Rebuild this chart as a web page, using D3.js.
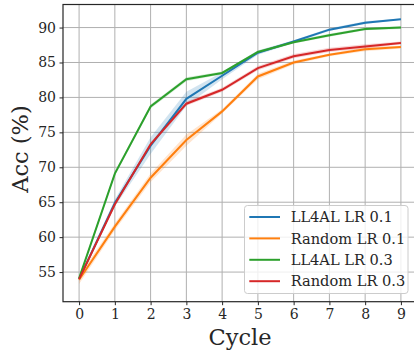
<!DOCTYPE html>
<html><head><meta charset="utf-8">
<script src="https://cdn.jsdelivr.net/npm/d3@7"></script>
<style>body{margin:0;background:#fff}svg{display:block}</style>
</head><body>
<script>
const cycles = [0,1,2,3,4,5,6,7,8,9];
const seriesNames = ["LL4AL LR 0.1","Random LR 0.1","LL4AL LR 0.3","Random LR 0.3"];
const colors = ["#1f77b4","#ff7f0e","#2ca02c","#d62728"];
const ll4al01 = [54.0,64.9,73.1,79.8,83.1,86.4,88.0,89.7,90.7,91.2];
const random01 = [53.9,61.5,68.5,73.9,78.0,83.0,85.0,86.1,86.9,87.2];
const ll4al03 = [54.1,69.1,78.7,82.6,83.5,86.5,87.9,88.9,89.8,90.0];
const random03 = [54.0,64.7,73.3,79.1,81.1,84.2,85.9,86.8,87.3,87.8];
const std01a = [0.3,0.5,1.2,1.0,0.5,0.3,0.2,0.2,0.2,0.1];
const std01r = [0.6,0.5,0.6,0.8,0.3,0.4,0.3,0.2,0.3,0.2];
const std03a = [0.3,0.3,0.3,0.3,0.2,0.2,0.2,0.2,0.2,0.2];
const std03r = [0.2,0.3,0.3,0.3,0.3,0.3,0.3,0.3,0.3,0.2];
const yTicks = [55,60,65,70,75,80,85,90];

const values = [ll4al01, random01, ll4al03, random03];
const stds = [std01a, std01r, std03a, std03r];

const W = 414, H = 356;
const m = {left:63, top:4.5, right:417, bottom:301.7};
const svg = d3.select("body").append("svg").attr("width",W).attr("height",H)
  .style("font-family","'DejaVu Serif', serif");

const x = d3.scaleLinear().domain([-0.45,9.45]).range([m.left,m.right]);
const y = d3.scaleLinear().domain([50.76,93.3]).range([m.bottom,m.top]);

// grid
const g = svg.append("g");
g.selectAll(".gx").data(cycles).enter().append("line")
  .attr("x1",d=>x(d)).attr("x2",d=>x(d)).attr("y1",m.top).attr("y2",m.bottom)
  .attr("stroke","#b0b0b0").attr("stroke-width",1);
g.selectAll(".gy").data(yTicks).enter().append("line")
  .attr("y1",d=>y(d)).attr("y2",d=>y(d)).attr("x1",m.left).attr("x2",m.right)
  .attr("stroke","#b0b0b0").attr("stroke-width",1);

// bands and lines
values.forEach((vals,i)=>{
  const area = d3.area().x((d,j)=>x(cycles[j])).y0((d,j)=>y(d-stds[i][j])).y1((d,j)=>y(d+stds[i][j]));
  svg.append("path").datum(vals).attr("d",area).attr("fill",colors[i]).attr("fill-opacity",0.2).attr("stroke","none");
});
values.forEach((vals,i)=>{
  const line = d3.line().x((d,j)=>x(cycles[j])).y(d=>y(d));
  svg.append("path").datum(vals).attr("d",line).attr("fill","none").attr("stroke",colors[i]).attr("stroke-width",2);
});

// axes
const xAxis = d3.axisBottom(x).tickValues(cycles).tickSize(3.5).tickPadding(3.5).tickFormat(d3.format("d"));
const yAxis = d3.axisLeft(y).tickValues(yTicks).tickSize(3.5).tickPadding(3.5);
const xa = svg.append("g").attr("transform",`translate(0,${m.bottom})`).call(xAxis);
const ya = svg.append("g").attr("transform",`translate(${m.left},0)`).call(yAxis);
[xa,ya].forEach(a=>{
  a.select(".domain").remove();
  a.selectAll("text").attr("font-family","'DejaVu Serif', serif").attr("font-size",14).attr("fill","#262626");
  a.selectAll("line").attr("stroke","#262626").attr("stroke-width",1);
});
xa.selectAll("text").attr("dy","0.71em");
// spines
svg.append("rect").attr("x",m.left).attr("y",m.top).attr("width",m.right-m.left).attr("height",m.bottom-m.top)
  .attr("fill","none").attr("stroke","#262626").attr("stroke-width",1.2);

// labels
svg.append("text").attr("x",(m.left+m.right)/2).attr("y",345).attr("text-anchor","middle")
  .attr("font-size",22.5).attr("fill","#262626").text("Cycle");
svg.append("text").attr("transform",`translate(28,${(m.top+m.bottom)/2 - 4}) rotate(-90)`).attr("text-anchor","middle")
  .attr("font-size",22.5).attr("fill","#262626").text("Acc (%)");

// legend
const lg = svg.append("g");
lg.append("rect").attr("x",244.5).attr("y",205.5).attr("width",163.5).attr("height",88).attr("rx",3)
  .attr("fill","#fff").attr("fill-opacity",0.8).attr("stroke","#cccccc").attr("stroke-width",1);
seriesNames.forEach((n,i)=>{
  const yy = 217 + i*21.4;
  lg.append("line").attr("x1",249.3).attr("x2",280).attr("y1",yy).attr("y2",yy).attr("stroke",colors[i]).attr("stroke-width",2);
  lg.append("text").attr("x",290.7).attr("y",yy).attr("dy","0.35em").attr("font-size",14.6).attr("fill","#262626").text(n);
});
</script>
</body></html>
